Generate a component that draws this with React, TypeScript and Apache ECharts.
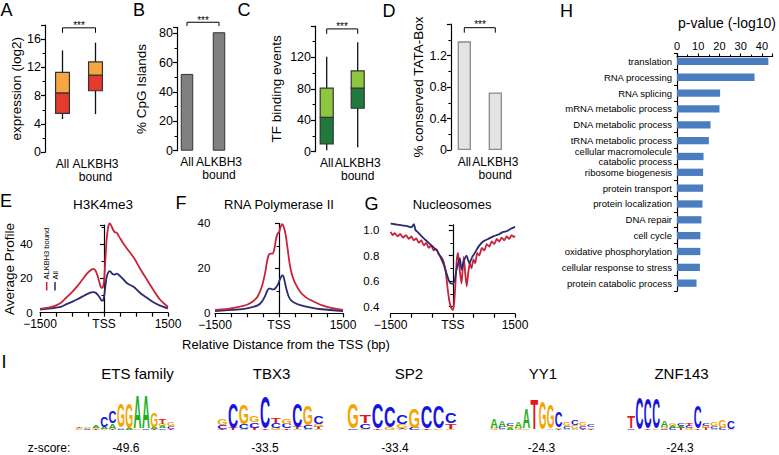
import React, { useEffect, useRef } from 'react';
import * as echarts from 'echarts';

const FONT = "'Liberation Sans', Arial, Helvetica, sans-serif";
const RED = '#c8233a';
const BLUE = '#2b2b70';

// ---------- Panels A-D ----------
const groupCats = ['All', 'ALKBH3\nbound'];
// boxplot stats: [min, q1, median, q3, max]
const exprAll = [4.7, 5.5, 8.4, 11.3, 14.4];
const exprBound = [5.4, 8.7, 10.9, 12.8, 15.5];
const cpgValues = [52.3, 80.7];
const tfAll = [2, 9.8, 43.8, 80.8, 121];
const tfBound = [5.6, 55.3, 80.8, 102.8, 139.4];
const tataValues = [1.38, 0.73];
// significance brackets [low end, high]
const sigA = [16.9, 17.6];
const sigB = [85, 87.5];
const sigC = [150, 156.3];
const sigD = [1.49, 1.553];

// ---------- Panel H ----------
const goTerms = [
  'translation', 'RNA processing', 'RNA splicing', 'mRNA metabolic process',
  'DNA metabolic process', 'tRNA metabolic process', 'cellular macromolecule\ncatabolic process',
  'ribosome biogenesis', 'protein transport', 'protein localization', 'DNA repair',
  'cell cycle', 'oxidative phosphorylation', 'cellular response to stress', 'protein catabolic process',
];
const goLogP = [43, 36.5, 20.3, 20, 15.8, 15, 12.5, 12.3, 12.3, 12, 11.5, 11, 11, 10.8, 9.2];

// ---------- Panels E-G ----------
const profileTickValues = [-1500, 0, 1500];
const profileTickLabels = ['\u22121500', 'TSS', '1500'];

const h3BpBound = [-1500,-1300,-1150,-1000,-875,-750,-625,-500,-400,-300,-250,-200,-150,-100,-60,-30,0,30,60,100,140,200,250,300,350,450,550,700,850,1000,1150,1300,1400,1500];
const h3Bound = [2.2,3.0,4.0,6.0,9.0,12.0,15.5,19.5,22.8,25.0,25.6,24.6,21.5,17.0,14.5,14.8,18.0,30.0,42.0,50.0,52.0,49.0,47.0,46.5,44.5,40.5,37.0,32.0,25.5,19.5,13.5,8.0,5.5,3.5];
const h3BpAll = [-1500,-1250,-1000,-875,-750,-625,-500,-400,-300,-250,-200,-150,-100,-60,-30,0,30,60,100,140,200,250,300,350,450,550,700,850,1000,1150,1300,1500];
const h3All = [1.8,2.5,3.6,5.0,6.3,7.8,9.5,10.8,11.8,12.0,11.7,10.5,8.8,7.2,7.0,9.0,15.0,20.5,23.5,24.2,22.5,22.2,22.8,22.0,19.5,17.0,15.0,11.5,8.8,6.2,4.3,2.5];

const polBpBound = [-1500,-1200,-1000,-750,-600,-500,-400,-330,-280,-240,-200,-150,-110,-70,-30,0,40,75,110,150,200,250,300,375,500,625,750,1000,1250,1500];
const polBound = [1.5,2.0,2.6,3.8,5.5,7.5,12.0,17.5,23.0,26.0,26.5,26.5,28.5,33.0,35.5,36.0,38.5,39.6,38.5,35.5,29.0,22.0,17.5,13.5,9.5,7.2,5.8,3.6,2.3,1.5];
const polBpAll = [-1500,-1000,-750,-500,-400,-330,-280,-240,-200,-150,-100,-60,-20,20,60,90,130,170,220,270,350,500,750,1000,1500];
const polAll = [1.0,1.6,2.2,3.5,5.2,7.5,9.8,11.0,11.0,10.6,10.8,11.8,13.0,15.0,16.6,16.8,14.5,11.0,7.8,6.0,4.8,3.6,2.5,1.8,1.0];

const nucBpBound = [-1500,-1450,-1400,-1330,-1270,-1200,-1130,-1060,-1000,-940,-880,-820,-760,-700,-640,-580,-520,-460,-400,-340,-280,-220,-170,-120,-80,-40,0,30,60,95,125,165,210,240,265,300,335,375,410,450,500,540,590,640,700,760,820,880,940,1000,1060,1120,1180,1240,1300,1360,1420,1470,1500];
const nucBound = [0.985,0.96,0.975,0.95,0.97,0.94,0.96,0.93,0.95,0.92,0.935,0.9,0.92,0.88,0.9,0.86,0.88,0.84,0.85,0.81,0.79,0.75,0.67,0.53,0.44,0.39,0.375,0.42,0.56,0.76,0.82,0.69,0.58,0.7,0.79,0.66,0.56,0.67,0.74,0.7,0.77,0.74,0.82,0.8,0.86,0.84,0.89,0.87,0.91,0.89,0.93,0.91,0.94,0.92,0.95,0.93,0.96,0.945,0.955];
const nucBpAll = [-1500,-1400,-1300,-1200,-1100,-1000,-940,-900,-850,-750,-650,-550,-450,-380,-300,-220,-150,-90,-40,0,40,90,130,170,210,260,330,400,470,530,620,730,850,975,1100,1217,1300,1400,1500];
const nucAll = [1.05,1.045,1.04,1.035,1.03,1.02,1.045,1.0,0.985,0.95,0.92,0.89,0.86,0.84,0.79,0.73,0.66,0.6,0.58,0.58,0.6,0.69,0.74,0.78,0.69,0.75,0.8,0.74,0.79,0.82,0.87,0.91,0.93,0.95,0.965,0.985,0.99,1.01,1.025];

// ---------- Panel I: motifs (bits per letter per column) ----------
type Col = [string, number][];
const etsColumns: Col[] = [
  [['T', 0.06], ['A', 0.05], ['G', 0.04]],
  [['C', 0.05], ['G', 0.05], ['A', 0.08]],
  [['T', 0.05], ['A', 0.1], ['G', 0.06]],
  [['C', 0.6], ['A', 0.1], ['G', 0.05]],
  [['C', 0.62], ['A', 0.3], ['T', 0.05]],
  [['G', 1.3], ['A', 0.08], ['C', 0.05]],
  [['G', 1.35], ['A', 0.1]],
  [['A', 1.8], ['G', 0.05]],
  [['A', 1.8], ['C', 0.05]],
  [['G', 0.8], ['A', 0.1], ['T', 0.05]],
  [['T', 0.3], ['G', 0.12], ['C', 0.08], ['A', 0.1]],
  [['G', 0.2], ['C', 0.12], ['T', 0.05]],
];
const tbx3Columns: Col[] = [
  [['G', 0.35], ['C', 0.2], ['T', 0.05]],
  [['C', 1.4], ['T', 0.1]],
  [['G', 1.1], ['C', 0.25], ['A', 0.05]],
  [['G', 0.35], ['C', 0.3], ['T', 0.1]],
  [['C', 1.7], ['T', 0.05]],
  [['T', 0.3], ['C', 0.25], ['G', 0.1]],
  [['G', 0.3], ['C', 0.25], ['T', 0.08]],
  [['C', 1.3], ['T', 0.1], ['A', 0.05]],
  [['G', 1.1], ['C', 0.2], ['A', 0.05]],
  [['C', 0.45], ['G', 0.15], ['T', 0.1], ['A', 0.05]],
];
const sp2Columns: Col[] = [
  [['G', 1.4], ['C', 0.05]],
  [['T', 0.45], ['C', 0.3], ['G', 0.05]],
  [['C', 1.4], ['T', 0.05]],
  [['C', 1.15], ['G', 0.1]],
  [['C', 0.5], ['G', 0.2], ['A', 0.05], ['T', 0.05]],
  [['G', 1.05], ['C', 0.1]],
  [['C', 1.2], ['T', 0.05]],
  [['C', 1.2], ['G', 0.05]],
  [['C', 0.55], ['T', 0.3], ['G', 0.05]],
];
const yy1Columns: Col[] = [
  [['A', 0.5], ['G', 0.1]],
  [['A', 0.35], ['C', 0.1], ['G', 0.05]],
  [['C', 0.15], ['G', 0.12], ['A', 0.1]],
  [['A', 0.35], ['G', 0.1]],
  [['A', 1.05], ['G', 0.05]],
  [['T', 1.7]],
  [['G', 1.55]],
  [['G', 1.3], ['A', 0.05]],
  [['C', 0.85], ['A', 0.08], ['T', 0.05]],
  [['G', 0.2], ['C', 0.15], ['A', 0.05]],
  [['C', 0.3], ['G', 0.2], ['A', 0.05]],
  [['G', 0.2], ['C', 0.15], ['T', 0.05]],
  [['C', 0.12], ['A', 0.08], ['T', 0.05]],
];
const znf143Columns: Col[] = [
  [['T', 0.65], ['C', 0.05]],
  [['C', 1.75]],
  [['C', 1.65], ['T', 0.05]],
  [['C', 1.65], ['G', 0.05]],
  [['A', 0.35], ['G', 0.1], ['C', 0.05]],
  [['G', 0.15], ['A', 0.12], ['C', 0.1]],
  [['C', 0.12], ['T', 0.1], ['A', 0.1]],
  [['T', 0.15], ['C', 0.12], ['G', 0.1]],
  [['C', 1.2], ['T', 0.05]],
  [['C', 0.15], ['G', 0.12], ['T', 0.1]],
  [['G', 0.2], ['C', 0.12], ['A', 0.05]],
  [['G', 0.4], ['C', 0.1]],
  [['C', 0.45], ['G', 0.05]],
];
const motifNames = ['ETS family', 'TBX3', 'SP2', 'YY1', 'ZNF143'];
const motifZ = ['-49.6', '-33.5', '-33.4', '-24.3', '-24.3'];
const motifColumns = [etsColumns, tbx3Columns, sp2Columns, yy1Columns, znf143Columns];

// layout (styles/positions)
const logoBoxes = [
  { left: 75, width: 100 },
  { left: 217, width: 107 },
  { left: 347, width: 110 },
  { left: 490, width: 105 },
  { left: 627, width: 108 },
];
const motifTitleX = [137.5, 271.5, 409, 543, 681.5];
const motifZX = [125.8, 265, 395, 541.5, 680];

const LETTERS = ['A', 'C', 'G', 'T'];
const LETTER_COLOR: Record<string, string> = { A: '#1fae1f', C: '#1515e0', G: '#f5a400', T: '#e2181c' };
const LETTER_W: Record<string, number> = { A: 0.722, C: 0.722, G: 0.778, T: 0.611 };

function zip(xs: number[], ys: number[]) {
  return xs.map((x, i) => [x, ys[i]]);
}

function logoData(cols: Col[]) {
  const out: number[][] = [];
  cols.forEach((col, ci) => {
    const sorted = [...col].sort((a, b) => a[1] - b[1]);
    let base = 0;
    sorted.forEach(([l, h]) => {
      out.push([ci, base, h, LETTERS.indexOf(l)]);
      base += h;
    });
  });
  return out;
}

function logoRender(_p: any, api: any) {
  const col = api.value(0);
  const base = api.value(1);
  const h = api.value(2);
  const L = LETTERS[api.value(3)];
  const p0 = api.coord([col, base]);
  const p1 = api.coord([col + 1, base + h]);
  const w = p1[0] - p0[0];
  const ht = p0[1] - p1[1];
  if (ht < 0.5) return { type: 'group', children: [] };
  const fs = 40;
  return {
    type: 'text',
    x: (p0[0] + p1[0]) / 2,
    y: (p0[1] + p1[1]) / 2,
    scaleX: (w * 0.95) / (fs * LETTER_W[L]),
    scaleY: ht / (fs * 0.72),
    style: {
      text: L, fontSize: fs, fontWeight: 'bold', fontFamily: FONT,
      fill: LETTER_COLOR[L], align: 'center', verticalAlign: 'middle',
    },
  };
}

function boxRender(upper: string, lower: string) {
  return (_p: any, api: any) => {
    const i = api.value(0);
    const pts = [1, 2, 3, 4, 5].map((k) => api.coord([i, api.value(k)]));
    const bw = api.size([1, 0])[0] * 0.42;
    const cx = pts[0][0];
    const [pMin, pQ1, pMed, pQ3, pMax] = pts;
    return {
      type: 'group',
      children: [
        { type: 'line', shape: { x1: cx, y1: pMin[1], x2: cx, y2: pMax[1] }, style: { stroke: '#111', lineWidth: 1.3 } },
        { type: 'rect', shape: { x: cx - bw / 2, y: pMed[1], width: bw, height: pQ1[1] - pMed[1] }, style: { fill: lower, stroke: '#333', lineWidth: 1.2 } },
        { type: 'rect', shape: { x: cx - bw / 2, y: pQ3[1], width: bw, height: pMed[1] - pQ3[1] }, style: { fill: upper, stroke: '#333', lineWidth: 1.2 } },
      ],
    };
  };
}

const axLine = { show: true, lineStyle: { color: '#000', width: 1.2 } };
const axTick = { show: true, length: 4, lineStyle: { color: '#000', width: 1.2 } };
const minor = { show: true, splitNumber: 2, length: 2.5, lineStyle: { color: '#000', width: 1 } };

function valueY(gi: number, max: number, interval: number, offset: number, name: string, nameGap: number, min = 0) {
  return {
    gridIndex: gi, type: 'value', min, max, interval, offset,
    axisLine: axLine, axisTick: axTick, minorTick: minor, splitLine: { show: false },
    axisLabel: { color: '#000', fontSize: 12.5, fontFamily: FONT, margin: 4, showMaxLabel: false },
    name, nameLocation: 'middle', nameGap,
    nameTextStyle: { color: '#000', fontSize: 13.5, fontFamily: FONT },
  };
}
function catX(gi: number) {
  return {
    gridIndex: gi, type: 'category', data: groupCats,
    axisLine: { show: false }, axisTick: { show: false },
    axisLabel: { color: '#000', fontSize: 12, fontFamily: FONT, margin: 5, lineHeight: 13, interval: 0 },
  };
}
function profileX(gi: number, interval: number, offset: number) {
  return {
    gridIndex: gi, type: 'value', min: -1500, max: 1500, interval, offset,
    axisLine: axLine, axisTick: axTick, splitLine: { show: false },
    axisLabel: {
      color: '#000', fontSize: 12, fontFamily: FONT, margin: 5.5, showMinLabel: true, showMaxLabel: true,
      formatter: (v: number) => {
        const i = profileTickValues.indexOf(v);
        return i >= 0 ? profileTickLabels[i] : '';
      },
    },
  };
}
function bracket(xi: number, sig: number[]) {
  return {
    type: 'line', xAxisIndex: xi, yAxisIndex: xi, clip: false, silent: true, symbol: 'none',
    lineStyle: { color: '#000', width: 1 },
    data: [[0, sig[0]], [0, sig[1]], [1, sig[1]], [1, sig[0]]],
  };
}
function tssLine(lo: number, hi: number) {
  return {
    silent: true, symbol: ['none', 'none'], label: { show: false },
    lineStyle: { color: '#000', type: [5, 3], width: 1.6 },
    data: [[{ coord: [0, lo] }, { coord: [0, hi] }]],
  };
}
function profileLine(xi: number, data: number[][], color: string, smooth: number, mark?: any) {
  return {
    type: 'line', xAxisIndex: xi, yAxisIndex: xi, data, symbol: 'none', smooth, clip: false,
    lineStyle: { color, width: 1.8 }, itemStyle: { color }, silent: true,
    ...(mark ? { markLine: mark } : {}),
  };
}

function txt(text: string, x: number, y: number, fontSize: number, extra: any = {}) {
  return {
    type: 'text', x, y, silent: true,
    style: { text, fontSize, fontFamily: FONT, fill: '#000', align: 'center', verticalAlign: 'middle', ...extra },
  };
}

function buildOption() {
  const grids: any[] = [
    { left: 46, top: 25, width: 66, height: 127.3 },     // 0 A
    { left: 171, top: 27.4, width: 64, height: 123.3 },  // 1 B
    { left: 311.2, top: 26, width: 62, height: 125.7 },  // 2 C
    { left: 448.8, top: 24, width: 62, height: 126 },    // 3 D
    { left: 677, top: 53.5, width: 95.6, height: 237.6 },// 4 H
    { left: 40, top: 225.2, width: 128, height: 87.5 },  // 5 E
    { left: 215, top: 223.3, width: 128, height: 90 },   // 6 F
    { left: 390.6, top: 224.9, width: 124.4, height: 81.8 }, // 7 G
  ];
  logoBoxes.forEach((b) => grids.push({ left: b.left, top: 393, width: b.width, height: 36.8 }));

  const xAxes: any[] = [
    catX(0), catX(1), catX(2), catX(3),
    {
      gridIndex: 4, type: 'value', position: 'top', min: 0, max: 45, interval: 10, offset: -3,
      axisLine: axLine, axisTick: { show: true, length: 3, lineStyle: { color: '#000', width: 1.1 } },
      minorTick: { show: true, splitNumber: 2, length: 2, lineStyle: { color: '#000', width: 1 } },
      splitLine: { show: false },
      axisLabel: { color: '#000', fontSize: 11, fontFamily: FONT, margin: 5, showMaxLabel: false },
    },
    profileX(5, 375, 0), profileX(6, 375, 0), profileX(7, 500, 7),
  ];
  const yAxes: any[] = [
    valueY(0, 18, 4, 1, 'expression (log2)', 22),
    valueY(1, 84, 20, -6, '% CpG Islands', 29),
    valueY(2, 160, 40, -3.8, 'TF binding events', 32),
    valueY(3, 1.6, 0.4, -2.1, '% conserved TATA-Box', 21),
    {
      gridIndex: 4, type: 'category', data: goTerms, inverse: true,
      axisLine: axLine, axisTick: { show: true, length: 3, lineStyle: { color: '#000', width: 1.1 } },
      axisLabel: { color: '#000', fontSize: 9.5, fontFamily: FONT, margin: 5, lineHeight: 9.5, interval: 0 },
    },
    valueY(5, 51, 20, 3.3, 'Average Profile', 15),
    valueY(6, 40, 20, 0.7, '', 10),
    valueY(7, 1.04, 0.2, 7.3, '', 10, 0.4),
  ];
  yAxes[5].axisLabel.fontSize = 11.5;
  yAxes[6].axisLabel.fontSize = 11.5;
  yAxes[6].axisLabel.showMaxLabel = true;
  yAxes[7].axisLabel.fontSize = 11.5;
  yAxes[7].axisLabel.formatter = (v: number) => v.toFixed(1);

  logoBoxes.forEach((_b, k) => {
    const gi = 8 + k;
    xAxes.push({ gridIndex: gi, type: 'value', min: 0, max: motifColumns[k].length, show: false });
    yAxes.push({ gridIndex: gi, type: 'value', min: 0, max: 2, show: false });
  });

  const series: any[] = [
    {
      type: 'custom', xAxisIndex: 0, yAxisIndex: 0, renderItem: boxRender('#f6a742', '#e63a2f'),
      encode: { x: 0, y: [1, 2, 3, 4, 5] }, data: [[0, ...exprAll], [1, ...exprBound]], silent: true,
    },
    bracket(0, sigA),
    {
      type: 'bar', xAxisIndex: 1, yAxisIndex: 1, data: cpgValues, barWidth: 12.5, silent: true,
      itemStyle: { color: '#808080', borderColor: '#333', borderWidth: 1 },
    },
    bracket(1, sigB),
    {
      type: 'custom', xAxisIndex: 2, yAxisIndex: 2, renderItem: boxRender('#8dc640', '#1f7a3b'),
      encode: { x: 0, y: [1, 2, 3, 4, 5] }, data: [[0, ...tfAll], [1, ...tfBound]], silent: true,
    },
    bracket(2, sigC),
    {
      type: 'bar', xAxisIndex: 3, yAxisIndex: 3, data: tataValues, barWidth: 13.3, silent: true,
      itemStyle: { color: '#e4e4e4', borderColor: '#8a8a8a', borderWidth: 1.3 },
    },
    bracket(3, sigD),
    {
      type: 'bar', xAxisIndex: 4, yAxisIndex: 4, data: goLogP, barWidth: 7.3, silent: true,
      itemStyle: { color: '#4a7dc0' },
    },
    profileLine(5, zip(h3BpAll, h3All), BLUE, 0.3),
    profileLine(5, zip(h3BpBound, h3Bound), RED, 0.3, tssLine(0, 54)),
    profileLine(6, zip(polBpAll, polAll), BLUE, 0.3),
    profileLine(6, zip(polBpBound, polBound), RED, 0.3, tssLine(0, 40.7)),
    profileLine(7, zip(nucBpBound, nucBound), RED, 0.2),
    profileLine(7, zip(nucBpAll, nucAll), BLUE, 0.2, tssLine(0.35, 1.08)),
  ];
  motifColumns.forEach((cols, k) => {
    series.push({
      type: 'custom', xAxisIndex: 8 + k, yAxisIndex: 8 + k, renderItem: logoRender,
      data: logoData(cols), silent: true,
    });
  });

  const graphic: any[] = [
    txt('A', 6.5, 10, 18), txt('B', 139, 10, 18), txt('C', 244, 10, 18), txt('D', 389, 10.5, 18),
    txt('H', 566.5, 10.5, 18), txt('E', 6, 201, 18), txt('F', 181, 202.5, 18), txt('G', 371.5, 204, 18),
    txt('I', 4, 361.5, 18),
    txt('***', 79, 25, 10), txt('***', 203, 20, 10), txt('***', 342, 26, 10), txt('***', 480, 24.5, 10),
    txt('p-value (-log10)', 727, 23, 14),
    txt('H3K4me3', 103, 204, 13.5), txt('RNA Polymerase II', 279, 204, 13), txt('Nucleosomes', 452, 204, 13),
    txt('Relative Distance from the TSS (bp)', 286, 344, 13),
    txt('z-score:', 49, 448, 12),
    { type: 'line', silent: true, shape: { x1: 46.7, y1: 290.5, x2: 46.7, y2: 282 }, style: { stroke: RED, lineWidth: 1.5 } },
    { type: 'line', silent: true, shape: { x1: 55, y1: 290.5, x2: 55, y2: 282 }, style: { stroke: BLUE, lineWidth: 1.5 } },
    { ...txt('ALKBH3 bound', 46.7, 279.5, 7.5, { align: 'left' }), rotation: Math.PI / 2 },
    { ...txt('All', 55, 279.5, 7.5, { align: 'left' }), rotation: Math.PI / 2 },
  ];
  motifNames.forEach((n, k) => graphic.push(txt(n, motifTitleX[k], 373, 15)));
  motifZ.forEach((z, k) => graphic.push(txt(z, motifZX[k], 448, 12)));

  return {
    animation: false,
    backgroundColor: '#ffffff',
    textStyle: { fontFamily: FONT },
    grid: grids,
    xAxis: xAxes,
    yAxis: yAxes,
    series,
    graphic,
  };
}

export default function App() {
  const ref = useRef<HTMLDivElement>(null);
  useEffect(() => {
    if (!ref.current) return;
    const chart = echarts.init(ref.current, undefined, { renderer: 'svg' });
    chart.setOption(buildOption() as any);
    return () => chart.dispose();
  }, []);
  return (
    <div
      ref={ref}
      style={{ position: 'absolute', left: 0, top: 0, width: 779, height: 455, background: '#fff' }}
    />
  );
}
